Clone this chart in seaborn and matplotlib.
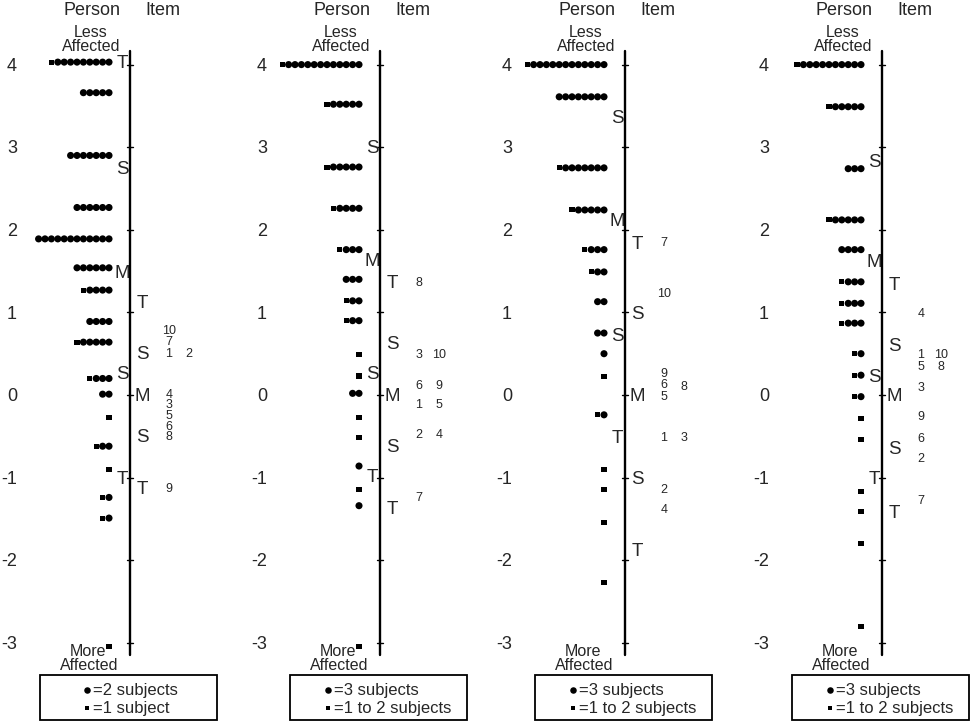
import numpy as np
import pandas as pd
import matplotlib.pyplot as plt
import seaborn as sns
from matplotlib.patches import Rectangle

sns.set_style('white')
plt.rcParams['font.family'] = ['Liberation Sans', 'DejaVu Sans']

# ---- panel 1 ----
p1_level   = [4.03, 3.66, 2.90, 2.27, 1.89, 1.54, 1.27, 0.89, 0.64, 0.20, 0.01, -0.27, -0.62, -0.90, -1.24, -1.49, -3.05]
p1_circles = [9, 5, 7, 6, 12, 6, 4, 4, 5, 3, 2, 0, 2, 0, 1, 1, 0]
p1_squares = [1, 0, 0, 0, 0, 0, 1, 0, 1, 1, 0, 1, 1, 1, 1, 1, 1]
p1_pstat_lab = ['T', 'S', 'M', 'S', 'T']
p1_pstat_lvl = [4.03, 2.75, 1.49, 0.27, -1.00]
p1_istat_lab = ['T', 'S', 'M', 'S', 'T']
p1_istat_lvl = [1.13, 0.51, 0.00, -0.50, -1.13]
p1_item_lab = ['10', '7', '1', '2', '4', '3', '5', '6', '8', '9']
p1_item_lvl = [0.79, 0.65, 0.51, 0.51, 0.01, -0.11, -0.24, -0.38, -0.50, -1.13]
p1_item_col = [0, 0, 0, 1, 0, 0, 0, 0, 0, 0]
p1_legend = ['=2 subjects', '=1 subject']

# ---- panel 2 ----
p2_level   = [4.00, 3.52, 2.76, 2.26, 1.76, 1.40, 1.14, 0.90, 0.49, 0.23, 0.02, -0.27, -0.51, -0.86, -1.14, -1.34, -3.04]
p2_circles = [12, 5, 5, 4, 3, 3, 2, 2, 0, 0, 2, 0, 0, 1, 0, 1, 0]
p2_squares = [1, 1, 1, 1, 1, 0, 1, 1, 1, 1, 0, 1, 1, 0, 1, 0, 1]
p2_pstat_lab = ['S', 'M', 'S', 'T']
p2_pstat_lvl = [3.00, 1.64, 0.27, -0.98]
p2_istat_lab = ['T', 'S', 'M', 'S', 'T']
p2_istat_lvl = [1.37, 0.63, 0.00, -0.61, -1.37]
p2_item_lab = ['8', '3', '10', '6', '9', '1', '5', '2', '4', '7']
p2_item_lvl = [1.37, 0.49, 0.49, 0.12, 0.12, -0.11, -0.11, -0.47, -0.47, -1.24]
p2_item_col = [0, 0, 1, 0, 1, 0, 1, 0, 1, 0]
p2_legend = ['=3 subjects', '=1 to 2 subjects']

# ---- panel 3 ----
p3_level   = [4.00, 3.61, 2.75, 2.24, 1.76, 1.49, 1.13, 0.75, 0.50, 0.22, -0.24, -0.90, -1.15, -1.54, -2.27]
p3_circles = [12, 8, 7, 5, 3, 2, 2, 2, 1, 0, 1, 0, 0, 0, 0]
p3_squares = [1, 0, 1, 1, 1, 1, 0, 0, 0, 1, 1, 1, 1, 1, 1]
p3_pstat_lab = ['S', 'M', 'S', 'T']
p3_pstat_lvl = [3.37, 2.12, 0.73, -0.51]
p3_istat_lab = ['T', 'S', 'M', 'S', 'T']
p3_istat_lvl = [1.84, 0.99, 0.00, -1.00, -1.88]
p3_item_lab = ['7', '10', '9', '6', '8', '5', '1', '3', '2', '4']
p3_item_lvl = [1.85, 1.23, 0.27, 0.13, 0.11, -0.02, -0.51, -0.51, -1.14, -1.38]
p3_item_col = [0, 0, 0, 0, 1, 0, 0, 1, 0, 0]
p3_legend = ['=3 subjects', '=1 to 2 subjects']

# ---- panel 4 ----
p4_level   = [4.00, 3.49, 2.74, 2.12, 1.76, 1.37, 1.11, 0.87, 0.50, 0.24, -0.02, -0.29, -0.54, -1.17, -1.41, -1.80, -2.80]
p4_circles = [10, 5, 3, 5, 4, 3, 3, 3, 1, 1, 1, 0, 0, 0, 0, 0, 0]
p4_squares = [1, 1, 0, 1, 0, 1, 1, 1, 1, 1, 1, 1, 1, 1, 1, 1, 1]
p4_pstat_lab = ['S', 'M', 'S', 'T']
p4_pstat_lvl = [2.83, 1.63, 0.23, -1.00]
p4_istat_lab = ['T', 'S', 'M', 'S', 'T']
p4_istat_lvl = [1.35, 0.61, 0.00, -0.64, -1.41]
p4_item_lab = ['4', '1', '10', '5', '8', '3', '9', '6', '2', '7']
p4_item_lvl = [0.99, 0.50, 0.50, 0.35, 0.35, 0.10, -0.26, -0.52, -0.76, -1.27]
p4_item_col = [0, 0, 1, 0, 1, 0, 0, 0, 0, 0]
p4_legend = ['=3 subjects', '=1 to 2 subjects']

tick_vals = [4, 3, 2, 1, 0, -1, -2, -3]

panels = [
    (p1_level, p1_circles, p1_squares, p1_pstat_lab, p1_pstat_lvl, p1_istat_lab, p1_istat_lvl,
     p1_item_lab, p1_item_lvl, p1_item_col, p1_legend),
    (p2_level, p2_circles, p2_squares, p2_pstat_lab, p2_pstat_lvl, p2_istat_lab, p2_istat_lvl,
     p2_item_lab, p2_item_lvl, p2_item_col, p2_legend),
    (p3_level, p3_circles, p3_squares, p3_pstat_lab, p3_pstat_lvl, p3_istat_lab, p3_istat_lvl,
     p3_item_lab, p3_item_lvl, p3_item_col, p3_legend),
    (p4_level, p4_circles, p4_squares, p4_pstat_lab, p4_pstat_lvl, p4_istat_lab, p4_istat_lvl,
     p4_item_lab, p4_item_lvl, p4_item_col, p4_legend),
]

# layout (pixels): axis line x of each panel, legend marker offset
W, H = 971, 721
axis_px = [130, 380, 625, 882]
leg_off = [-43, -52, -52, -52]
SP = 6.4      # spacing between person symbols
X0 = -21      # first symbol, relative to axis line
y_lo, y_hi = (395 - H) / 82.6, 395 / 82.6

fig = plt.figure(figsize=(W / 100, H / 100), dpi=100)

for (lvl, nc, ns, psl, psv, isl, isv, itl, itv, itc, leg), ax_x, lo in zip(panels, axis_px, leg_off):
    ax = fig.add_axes([(ax_x - 130) / W, 0, 245 / W, 1])
    ax.set_xlim(-130, 115)
    ax.set_ylim(y_lo, y_hi)
    ax.axis('off')

    rows = []
    for y, c, s in zip(lvl, nc, ns):
        for k in range(c + s):
            rows.append({'x': X0 - SP * k, 'y': y, 'kind': 'circle' if k < c else 'square'})
    df = pd.DataFrame(rows)
    sns.scatterplot(data=df, x='x', y='y', style='kind', size='kind',
                    markers={'circle': 'o', 'square': 's'},
                    sizes={'circle': 26, 'square': 13},
                    color='black', linewidth=0, legend=False, ax=ax)
    ax.set_xlim(-130, 115)
    ax.set_ylim(y_lo, y_hi)

    # vertical scale
    ax.plot([0, 0], [4.165, -3.15], color='black', lw=1.7)
    for t in tick_vals:
        ax.plot([-3, 3], [t, t], color='black', lw=1)
        ax.text(-113, t - 0.02, str(t), ha='right', va='center', fontsize=13)

    for lab, v in zip(psl, psv):
        ax.text(-8, v - 0.02, lab, ha='center', va='center', fontsize=13.5)
    for lab, v in zip(isl, isv):
        ax.text(12, v - 0.02, lab, ha='center', va='center', fontsize=13.5)
    for lab, v, c in zip(itl, itv, itc):
        ax.text(39 + 20 * c, v - 0.01, lab, ha='center', va='center', fontsize=9)

    ax.text(-38, 4.66, 'Person', ha='center', va='center', fontsize=13)
    ax.text(33, 4.66, 'Item', ha='center', va='center', fontsize=13)
    ax.text(-39, 4.39, 'Less', ha='center', va='center', fontsize=11.5)
    ax.text(-39, 4.22, 'Affected', ha='center', va='center', fontsize=11.5)
    ax.text(-42, -3.11, 'More', ha='center', va='center', fontsize=11.5)
    ax.text(-41, -3.28, 'Affected', ha='center', va='center', fontsize=11.5)

    # symbol key
    ax.add_patch(Rectangle((-90, -3.93), 177, 0.545, fill=False, ec='black', lw=1.3, clip_on=False))
    ax.scatter([lo], [-3.57], marker='o', s=22, color='black', linewidth=0)
    ax.scatter([lo], [-3.79], marker='s', s=11, color='black', linewidth=0)
    ax.text(lo + 6, -3.58, leg[0], ha='left', va='center', fontsize=12)
    ax.text(lo + 6, -3.80, leg[1], ha='left', va='center', fontsize=12)

fig.savefig('out.png', dpi=100)
